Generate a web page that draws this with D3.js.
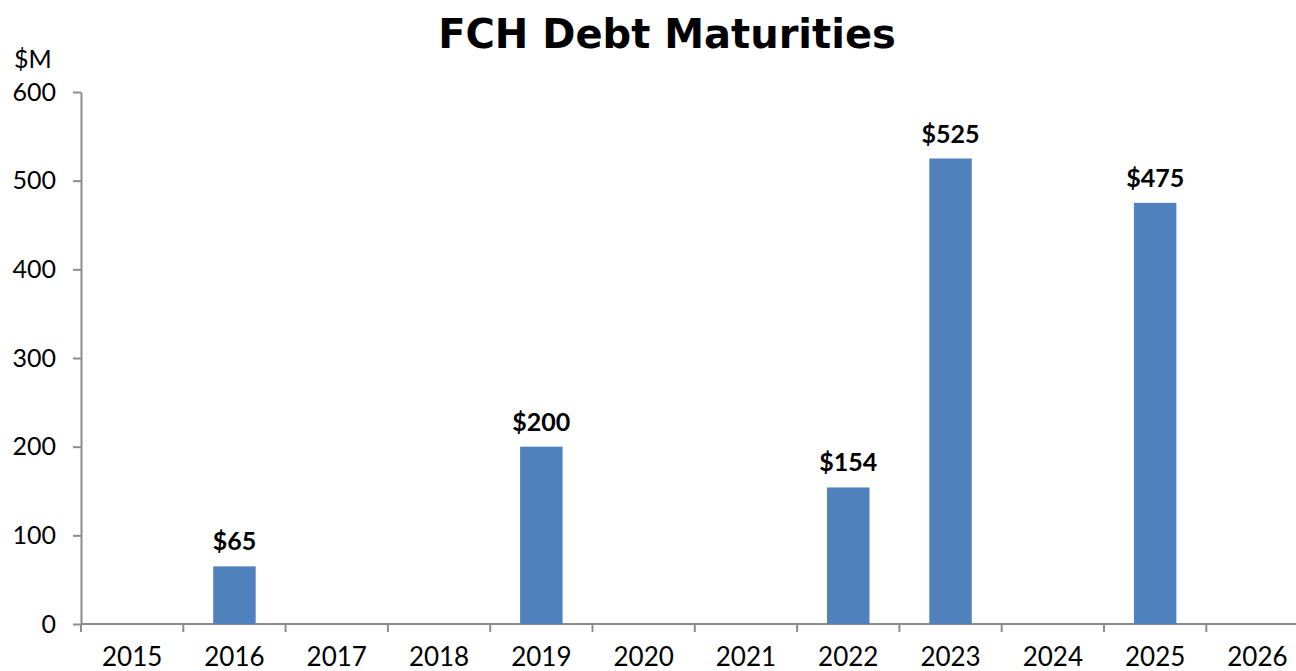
<!DOCTYPE html>
<html>
<head>
<meta charset="utf-8">
<script src="https://cdn.jsdelivr.net/npm/d3@7"></script>
<style>
  body { margin: 0; background: #fff; }
  svg { display: block; }
</style>
</head>
<body>
<div id="drawing"></div>
<script>
// Data
const years = ["2015", "2016", "2017", "2018", "2019", "2020", "2021", "2022", "2023", "2024", "2025", "2026"];
const maturities = [null, 65, null, null, 200, null, null, 154, 525, null, 475, null];
const yTicks = [0, 100, 200, 300, 400, 500, 600];

// SVG dimensions
const svgWidth = 1296;
const svgHeight = 671;

const svg = d3.select("#drawing")
  .append("svg")
  .attr("width", svgWidth)
  .attr("height", svgHeight);

const x0 = 81, y0 = 624, yTop = 92;
const band = 102.3;

const x = d3.scaleBand()
  .domain(years)
  .range([x0, x0 + band * years.length])
  .paddingInner(0.585)
  .paddingOuter(0.2925);

const y = d3.scaleLinear()
  .domain([0, 600])
  .range([y0, yTop]);

const axisColor = "#8c8c8c";
const fontTick = "'Century Gothic', 'Lato', sans-serif";

// Title
svg.append("text")
  .attr("x", 667)
  .attr("y", 48)
  .attr("text-anchor", "middle")
  .style("font-family", "'Century Gothic', 'DejaVu Sans', sans-serif")
  .style("font-weight", "bold")
  .style("font-size", "40px")
  .text("FCH Debt Maturities");

// $M unit
svg.append("text")
  .attr("x", 14)
  .attr("y", 68)
  .style("font-family", fontTick)
  .style("font-size", "25px")
  .style("fill", "#000")
  .text("$M");

// Y axis
const yAxis = svg.append("g")
  .attr("transform", `translate(${x0},0)`)
  .call(d3.axisLeft(y).tickValues(yTicks).tickSize(8).tickSizeOuter(0).tickPadding(17));
yAxis.select(".domain").attr("stroke", axisColor).attr("stroke-width", 2);
yAxis.selectAll(".tick line").attr("stroke", axisColor).attr("stroke-width", 2);
yAxis.selectAll(".tick text")
  .style("font-family", fontTick)
  .style("font-size", "25px")
  .attr("fill", "#000");

// X axis: ticks at band boundaries
const xAxisG = svg.append("g").attr("transform", `translate(0,${y0})`);
xAxisG.append("line")
  .attr("x1", x0).attr("x2", x0 + band * years.length)
  .attr("stroke", axisColor).attr("stroke-width", 2);
xAxisG.selectAll("line.tk")
  .data(years)
  .enter()
  .append("line")
  .attr("class", "tk")
  .attr("x1", (d, i) => x0 + band * i)
  .attr("x2", (d, i) => x0 + band * i)
  .attr("y1", 0).attr("y2", 8)
  .attr("stroke", axisColor).attr("stroke-width", 2);
xAxisG.selectAll("text")
  .data(years)
  .enter()
  .append("text")
  .attr("x", d => x(d) + x.bandwidth() / 2)
  .attr("y", 42)
  .attr("text-anchor", "middle")
  .style("font-family", fontTick)
  .style("font-size", "26px")
  .text(d => d);

// Bars
const barData = years.map((yr, i) => ({ year: yr, value: maturities[i] }))
  .filter(d => d.value !== null);

svg.selectAll("rect.bar")
  .data(barData)
  .enter()
  .append("rect")
  .attr("class", "bar")
  .attr("x", d => x(d.year))
  .attr("width", x.bandwidth())
  .attr("y", d => y(d.value))
  .attr("height", d => y0 - y(d.value))
  .attr("fill", "#4f81bd");

// Value labels
svg.selectAll("text.lbl")
  .data(barData)
  .enter()
  .append("text")
  .attr("class", "lbl")
  .attr("x", d => x(d.year) + x.bandwidth() / 2)
  .attr("y", d => y(d.value) - 16)
  .attr("text-anchor", "middle")
  .style("font-family", "'Lato', sans-serif")
  .style("font-weight", "bold")
  .style("font-size", "25px")
  .text(d => "$" + d.value);
</script>
</body>
</html>
